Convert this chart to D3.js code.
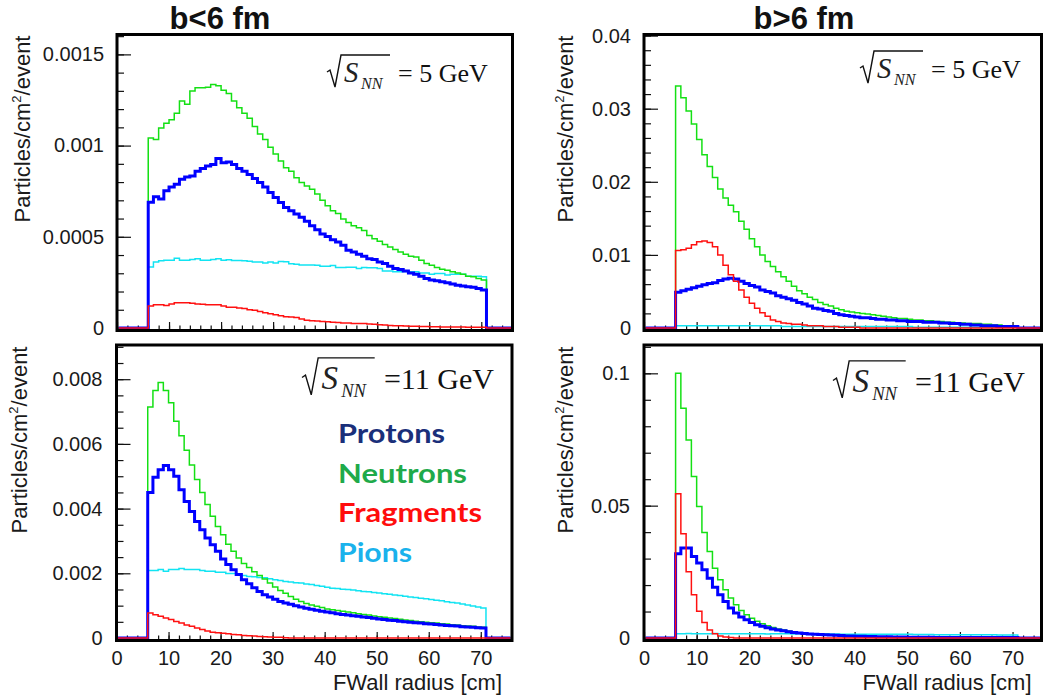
<!DOCTYPE html>
<html>
<head>
<meta charset="utf-8">
<script src="https://cdn.jsdelivr.net/npm/d3@7"></script>
<style>
  body { margin: 0; background: #fff; }
  svg text { font-family: "Liberation Sans", Arial, sans-serif; }
</style>
</head>
<body>
<script>
// all series are in 10^-3 particles/cm2/event, 1 cm bins starting at 6 cm
const unit = 1e-3;
const binStart = 6;
const binWidth = 1;

const xTicks = [0, 10, 20, 30, 40, 50, 60, 70];
const xTickLabels = ["0", "10", "20", "30", "40", "50", "60", "70"];

// b<6 fm, sqrt(s)=5 GeV
const protons5c = [0.690,0.719,0.707,0.752,0.773,0.788,0.815,0.828,0.833,0.860,0.875,0.888,0.897,0.929,0.906,0.910,0.897,0.875,0.860,0.842,0.820,0.797,0.773,0.743,0.715,0.688,0.661,0.643,0.625,0.607,0.585,0.561,0.538,0.516,0.502,0.484,0.471,0.453,0.426,0.416,0.404,0.393,0.380,0.375,0.362,0.353,0.339,0.326,0.321,0.313,0.302,0.295,0.284,0.272,0.263,0.259,0.253,0.248,0.241,0.235,0.230,0.226,0.223,0.217,0.208];
const neutrons5c = [1.041,1.033,1.096,1.123,1.141,1.177,1.244,1.226,1.299,1.317,1.317,1.320,1.335,1.328,1.304,1.286,1.244,1.208,1.177,1.150,1.105,1.063,1.033,0.991,0.954,0.915,0.878,0.860,0.824,0.797,0.779,0.760,0.735,0.700,0.670,0.643,0.628,0.598,0.579,0.561,0.549,0.534,0.507,0.489,0.476,0.458,0.444,0.431,0.416,0.404,0.393,0.389,0.371,0.353,0.344,0.332,0.322,0.317,0.308,0.302,0.295,0.284,0.281,0.272,0.263];
const fragments5c = [0.121,0.127,0.127,0.123,0.132,0.139,0.139,0.139,0.135,0.132,0.130,0.127,0.127,0.127,0.120,0.114,0.114,0.110,0.107,0.100,0.097,0.090,0.083,0.078,0.072,0.067,0.062,0.060,0.057,0.049,0.042,0.040,0.038,0.036,0.034,0.032,0.030,0.027,0.027,0.025,0.024,0.024,0.022,0.020,0.018,0.016,0.014,0.013,0.012,0.011,0.010,0.009,0.008,0.008,0.007,0.007,0.006,0.006,0.005,0.005,0.005,0.004,0.004,0.004,0.004];
const pions5c = [0.335,0.362,0.368,0.372,0.371,0.383,0.372,0.371,0.375,0.380,0.372,0.372,0.375,0.380,0.372,0.374,0.370,0.370,0.368,0.366,0.362,0.362,0.357,0.362,0.357,0.364,0.363,0.352,0.350,0.346,0.345,0.345,0.344,0.339,0.339,0.342,0.332,0.332,0.333,0.333,0.326,0.332,0.330,0.330,0.326,0.313,0.313,0.308,0.308,0.310,0.308,0.308,0.302,0.302,0.295,0.299,0.299,0.290,0.295,0.295,0.295,0.284,0.284,0.284,0.281];

// b>6 fm, sqrt(s)=5 GeV
const protons5p = [4.9,5.1,5.3,5.5,5.7,5.9,6.1,6.2,6.5,6.7,6.8,6.7,6.4,6.1,5.8,5.6,5.2,5.0,4.8,4.4,4.2,4.0,3.8,3.5,3.3,3.0,2.7,2.6,2.4,2.3,2.0,1.8,1.7,1.6,1.5,1.4,1.4,1.3,1.2,1.2,1.1,1.1,1.0,1.0,0.9,0.9,0.9,0.8,0.8,0.8,0.7,0.7,0.6,0.6,0.5,0.5,0.4,0.4,0.3,0.3,0.3,0.2,0.2,0.2,0.2];
const neutrons5p = [33.1,31.5,29.7,27.9,25.8,23.7,22.1,20.6,19.0,17.8,16.8,15.9,14.6,13.5,12.2,11.1,10.0,9.1,8.4,7.7,7.0,6.4,5.7,5.1,4.7,4.2,3.9,3.5,3.2,3.0,2.7,2.5,2.3,2.2,2.1,2.0,1.9,1.8,1.7,1.6,1.5,1.4,1.3,1.3,1.2,1.1,1.1,1.0,1.0,0.9,0.9,0.8,0.8,0.7,0.7,0.6,0.6,0.6,0.5,0.5,0.4,0.4,0.3,0.3,0.3];
const fragments5p = [10.6,10.7,10.9,11.4,11.8,11.9,11.7,11.1,10.0,8.6,7.3,6.4,5.2,4.2,3.4,2.7,2.1,1.6,1.1,0.9,0.7,0.6,0.5,0.5,0.4,0.3,0.3,0.3,0.2,0.2,0.2,0.1,0.1,0.1,0.1,0,0,0,0,0,0,0,0,0,0,0,0,0,0,0,0,0,0,0,0,0,0,0,0,0,0,0,0,0,0];
const pions5p = [0.3,0.3,0.3,0.3,0.3,0.3,0.3,0.3,0.3,0.3,0.3,0.3,0.3,0.3,0.3,0.3,0.3,0.3,0.3,0.3,0.2,0.2,0.2,0.2,0.2,0.2,0.2,0.2,0.2,0.2,0.2,0.2,0.2,0.2,0.2,0.2,0.2,0.2,0.2,0.2,0.2,0.2,0.2,0.2,0.2,0.1,0.1,0.1,0.1,0.1,0.1,0.1,0.1,0.1,0.1,0.1,0.1,0.1,0.1,0.1,0.1,0.1,0.1,0.1,0.1];

// b<6 fm, sqrt(s)=11 GeV
const protons11c = [4.50,4.97,5.20,5.33,5.20,5.00,4.58,4.22,3.91,3.60,3.35,3.09,2.88,2.68,2.44,2.27,2.11,1.96,1.80,1.68,1.55,1.44,1.34,1.27,1.20,1.13,1.08,1.04,1.00,0.96,0.92,0.89,0.86,0.83,0.80,0.78,0.75,0.73,0.71,0.69,0.67,0.65,0.63,0.61,0.59,0.57,0.55,0.54,0.52,0.50,0.49,0.47,0.46,0.44,0.43,0.42,0.40,0.39,0.38,0.37,0.35,0.34,0.33,0.32,0.31];
const neutrons11c = [7.14,7.65,7.90,7.65,7.27,6.70,6.25,5.80,5.35,4.90,4.50,4.13,3.76,3.45,3.19,2.90,2.68,2.47,2.30,2.18,2.05,1.93,1.82,1.70,1.58,1.47,1.38,1.28,1.20,1.13,1.07,1.02,0.98,0.94,0.90,0.87,0.85,0.83,0.80,0.78,0.75,0.73,0.71,0.68,0.66,0.64,0.62,0.60,0.58,0.56,0.54,0.52,0.50,0.49,0.47,0.46,0.44,0.43,0.41,0.40,0.38,0.37,0.36,0.34,0.33];
const fragments11c = [0.77,0.72,0.67,0.62,0.57,0.51,0.46,0.40,0.36,0.31,0.26,0.22,0.18,0.16,0.15,0.13,0.11,0.10,0.08,0.07,0.06,0.05,0.04,0.03,0.02,0.02,0.01,0,0,0,0,0,0,0,0,0,0,0,0,0,0,0,0,0,0,0,0,0,0,0,0,0,0,0,0,0,0,0,0,0,0,0,0,0,0];
const pions11c = [2.09,2.09,2.12,2.06,2.12,2.12,2.15,2.12,2.12,2.12,2.09,2.06,2.06,2.03,2.03,1.99,1.99,1.96,1.93,1.90,1.89,1.87,1.86,1.83,1.80,1.78,1.75,1.73,1.71,1.70,1.67,1.65,1.62,1.60,1.57,1.54,1.53,1.51,1.50,1.48,1.46,1.44,1.43,1.41,1.39,1.37,1.35,1.33,1.31,1.29,1.27,1.25,1.23,1.21,1.19,1.17,1.15,1.12,1.10,1.08,1.05,1.02,0.99,0.96,0.93];

// b>6 fm, sqrt(s)=11 GeV
const protons11p = [31.8,34.0,34.0,30.8,28.3,25.8,22.6,19.2,16.3,13.8,11.3,9.4,7.9,6.9,5.9,5.0,4.4,3.9,3.4,3.0,2.7,2.4,2.1,1.9,1.7,1.5,1.4,1.3,1.2,1.1,1.0,0.9,0.8,0.8,0.7,0.7,0.6,0.6,0.5,0.5,0.5,0.4,0.4,0.4,0.3,0.3,0.3,0.3,0.3,0.2,0.2,0.2,0.2,0.2,0.2,0.2,0.2,0.2,0.2,0.2,0.2,0.2,0.2,0.2,0.2];
const neutrons11p = [100.0,86.8,74.8,61.0,49.7,39.9,32.7,26.4,22.0,18.2,15.1,12.6,10.4,8.8,7.5,6.3,5.4,4.6,4.0,3.4,3.0,2.6,2.2,2.0,1.8,1.6,1.5,1.4,1.3,1.2,1.1,1.0,0.9,0.8,0.8,0.7,0.6,0.6,0.5,0.5,0.4,0.4,0.4,0.3,0.3,0.3,0.3,0.2,0.2,0.2,0.2,0.2,0.1,0.1,0.1,0.1,0.1,0.1,0.1,0.1,0.1,0.1,0.1,0.1,0.1];
const fragments11p = [54.5,39.4,25.0,16.3,10.1,5.9,3.0,1.6,0.8,0.4,0.2,0,0,0,0,0,0,0,0,0,0,0,0,0,0,0,0,0,0,0,0,0,0,0,0,0,0,0,0,0,0,0,0,0,0,0,0,0,0,0,0,0,0,0,0,0,0,0,0,0,0,0,0,0,0];
const pions11p = [1.6,1.6,1.7,1.6,1.6,1.6,1.6,1.7,1.6,1.6,1.6,1.6,1.6,1.6,1.6,1.6,1.6,1.5,1.6,1.6,1.6,1.6,1.5,1.6,1.6,1.5,1.6,1.5,1.5,1.5,1.5,1.4,1.4,1.4,1.4,1.4,1.4,1.4,1.4,1.4,1.4,1.4,1.4,1.4,1.4,1.3,1.3,1.3,1.3,1.2,1.2,1.2,1.2,1.2,1.2,1.2,1.2,1.2,1.2,1.2,1.2,1.1,1.1,1.1,1.1];

// y tick values and their labels
const yTicks5c = [0, 0.0005, 0.001, 0.0015];
const yLabels5c = ["0", "0.0005", "0.001", "0.0015"];
const yTicks5p = [0, 0.01, 0.02, 0.03, 0.04];
const yLabels5p = ["0", "0.01", "0.02", "0.03", "0.04"];
const yTicks11c = [0, 0.002, 0.004, 0.006, 0.008];
const yLabels11c = ["0", "0.002", "0.004", "0.006", "0.008"];
const yTicks11p = [0, 0.05, 0.1];
const yLabels11p = ["0", "0.05", "0.1"];

const legendNames = ["Protons", "Neutrons", "Fragments", "Pions"];

const lineColor = { protons: "#0000ff", neutrons: "#14e014", fragments: "#ff1010", pions: "#12e4f2" };
const legendColor = ["#1a2f7a", "#1faa4a", "#ff0d0d", "#1ab2ec"];

const panels = [
  { frame: [117, 34.5, 512.5, 330.5], zeroY: 328, xMax: 76, yMax: 0.001609, minor: 0.0001,
    ticks: yTicks5c, labels: yLabels5c, pad: 13, xlab: false,
    data: { pions: pions5c, neutrons: neutrons5c, protons: protons5c, fragments: fragments5c },
    energy: { x: 327, y: 82, size: 26, text: "= 5 GeV" }, ytitle: [30, 129] },
  { frame: [644, 34.5, 1041.5, 330.5], zeroY: 328, xMax: 75.5, yMax: 0.04015, minor: 0.002,
    ticks: yTicks5p, labels: yLabels5p, pad: 13, xlab: false,
    data: { pions: pions5p, neutrons: neutrons5p, protons: protons5p, fragments: fragments5p },
    energy: { x: 860, y: 78, size: 26, text: "= 5 GeV" }, ytitle: [573, 129] },
  { frame: [116.5, 345, 512, 640.5], zeroY: 638, xMax: 76, yMax: 0.009057, minor: 0.0005,
    ticks: yTicks11c, labels: yLabels11c, pad: 14, xlab: true,
    data: { pions: pions11c, neutrons: neutrons11c, protons: protons11c, fragments: fragments11c },
    energy: { x: 302, y: 389, size: 30, text: "=11 GeV" }, ytitle: [27, 440] },
  { frame: [644, 345, 1041.5, 640.5], zeroY: 638, xMax: 75.5, yMax: 0.1107, minor: 0.01,
    ticks: yTicks11p, labels: yLabels11p, pad: 14, xlab: true,
    data: { pions: pions11p, neutrons: neutrons11p, protons: protons11p, fragments: fragments11p },
    energy: { x: 833, y: 392, size: 30, text: "=11 GeV" }, ytitle: [573, 440] }
];

const svg = d3.select("body").append("svg")
  .attr("width", 1043)
  .attr("height", 700);

// column titles
svg.append("text").attr("x", 220).attr("y", 29).attr("text-anchor", "middle")
  .attr("font-size", 31).attr("font-weight", "bold").attr("fill", "#111").text("b<6 fm");
svg.append("text").attr("x", 804).attr("y", 29).attr("text-anchor", "middle")
  .attr("font-size", 31).attr("font-weight", "bold").attr("fill", "#111").text("b>6 fm");

function histPoints(vals, xMax) {
  const pts = [[0, 0]];
  vals.forEach((v, i) => pts.push([binStart + i * binWidth, v * unit]));
  pts.push([binStart + vals.length * binWidth, 0]);
  pts.push([xMax, 0]);
  return pts;
}

// sqrt(S_NN) = ... label, drawn in a Times-like face
function drawEnergy(g, e) {
  const k = e.size / 26;
  const serif = "'Liberation Serif', 'DejaVu Serif', serif";
  g.append("path")
    .attr("d", `M${e.x},${e.y - 10 * k} l${3 * k},${-2 * k} l${5 * k},${17 * k} l${6 * k},${-32 * k} h${49 * k}`)
    .attr("fill", "none").attr("stroke", "#111").attr("stroke-width", 1.4);
  g.append("text").attr("x", e.x + 17 * k).attr("y", e.y)
    .style("font-family", serif).style("font-style", "italic")
    .attr("font-size", e.size * 1.1).attr("fill", "#222").text("S");
  g.append("text").attr("x", e.x + 34 * k).attr("y", e.y + 7 * k)
    .style("font-family", serif).style("font-style", "italic")
    .attr("font-size", e.size * 0.62).attr("fill", "#222").text("NN");
  g.append("text").attr("x", e.x + 71 * k).attr("y", e.y)
    .style("font-family", serif)
    .attr("font-size", e.size).attr("fill", "#111").text(e.text);
}

panels.forEach((p, idx) => {
  const [x0, y0, x1, y1] = p.frame;
  const x = d3.scaleLinear().domain([0, p.xMax]).range([x0, x1]);
  const y = d3.scaleLinear().domain([0, p.yMax]).range([p.zeroY, y0]);
  const g = svg.append("g");

  // clip to the inside of the frame
  g.append("clipPath").attr("id", "clip" + idx)
    .append("rect").attr("x", x0 + 1.5).attr("y", y0 + 1.5)
    .attr("width", x1 - x0 - 3).attr("height", y1 - y0 - 3);

  // y axis: major and minor ticks point into the frame
  const yMinor = g.append("g").attr("transform", `translate(${x0},0)`)
    .call(d3.axisLeft(y).tickValues(d3.range(0, p.yMax, p.minor)).tickSize(-7).tickFormat(""));
  const yMajor = g.append("g").attr("transform", `translate(${x0},0)`)
    .call(d3.axisLeft(y).tickValues(p.ticks).tickSize(-14).tickPadding(p.pad)
      .tickFormat((d, i) => p.labels[i]));
  [yMinor, yMajor].forEach(a => {
    a.select(".domain").remove();
    a.selectAll("line").attr("stroke", "#111").attr("stroke-width", 1.2);
  });
  yMajor.selectAll("text").attr("font-size", 20).attr("fill", "#1a1a1a");

  // x axis
  const xMinor = g.append("g").attr("transform", `translate(0,${y1 - 1.5})`)
    .call(d3.axisBottom(x).tickValues(d3.range(0, p.xMax, 2)).tickSize(-3.5).tickFormat(""));
  const xMajor = g.append("g").attr("transform", `translate(0,${y1 - 1.5})`)
    .call(d3.axisBottom(x).tickValues(xTicks).tickSize(-7).tickPadding(12)
      .tickFormat((d, i) => p.xlab ? xTickLabels[i] : ""));
  [xMinor, xMajor].forEach(a => {
    a.select(".domain").remove();
    a.selectAll("line").attr("stroke", "#111").attr("stroke-width", 1.2);
  });
  xMajor.selectAll("text").attr("font-size", 20).attr("fill", "#1a1a1a");

  // histograms
  const line = d3.line().x(d => x(d[0])).y(d => y(d[1])).curve(d3.curveStepAfter);
  const plot = g.append("g").attr("clip-path", `url(#clip${idx})`);
  ["pions", "neutrons", "protons", "fragments"].forEach(name => {
    plot.append("path")
      .datum(histPoints(p.data[name], p.xMax))
      .attr("d", line)
      .attr("fill", "none")
      .attr("stroke", lineColor[name])
      .attr("stroke-width", name == "protons" ? 3 : 1.5);
  });

  // frame
  g.append("rect").attr("x", x0).attr("y", y0)
    .attr("width", x1 - x0).attr("height", y1 - y0)
    .attr("fill", "none").attr("stroke", "#000").attr("stroke-width", 3);

  // y title
  const yt = g.append("text")
    .attr("transform", `translate(${p.ytitle[0]},${p.ytitle[1]}) rotate(-90)`)
    .attr("text-anchor", "middle").attr("font-size", 22).attr("fill", "#1a1a1a");
  yt.append("tspan").text("Particles/cm");
  yt.append("tspan").attr("dy", -9).attr("font-size", 13).text("2");
  yt.append("tspan").attr("dy", 9).text("/event");

  if (p.xlab) {
    g.append("text").attr("x", x1 - 10).attr("y", 690).attr("text-anchor", "end")
      .attr("font-size", 22).attr("fill", "#1a1a1a").text("FWall radius [cm]");
  }

  drawEnergy(g, p.energy);
});

// legend (bottom-left panel)
const legendY = [443, 483, 522, 562];
const legendW = [107, 129, 144, 74];
svg.selectAll(".legend").data(legendNames).enter().append("text")
  .attr("class", "legend")
  .attr("x", 338)
  .attr("y", (d, i) => legendY[i])
  .attr("textLength", (d, i) => legendW[i])
  .attr("lengthAdjust", "spacingAndGlyphs")
  .style("font-family", "Lato, 'Open Sans', sans-serif")
  .attr("font-weight", "bold")
  .attr("font-size", 26)
  .attr("fill", (d, i) => legendColor[i])
  .text(d => d);
</script>
</body>
</html>
